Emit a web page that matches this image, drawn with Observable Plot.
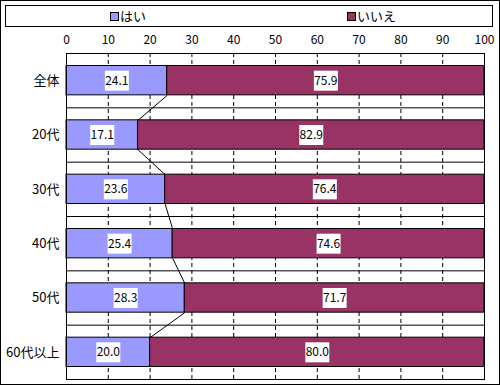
<!DOCTYPE html>
<html><head><meta charset="utf-8">
<script src="https://cdn.jsdelivr.net/npm/d3@7"></script>
<script src="https://cdn.jsdelivr.net/npm/@observablehq/plot@0.6"></script>
<style>
body{margin:0;background:#fff;font-family:"Noto Sans CJK JP",sans-serif;}
#wrap{position:relative;width:500px;height:385px;overflow:hidden;}
#frame{position:absolute;left:0;top:0;width:500px;height:385px;box-sizing:border-box;border:1px solid #000;pointer-events:none;}
#legend{position:absolute;left:5px;top:5px;width:488px;height:22px;box-sizing:border-box;border:1px solid #000;font-size:13px;}
.li{position:absolute;top:2px;display:flex;align-items:center;gap:1px;line-height:16px;}
.sw{width:7px;height:7px;border:1px solid #000;display:inline-block;}
#chart{position:absolute;left:0;top:28px;}
</style></head>
<body><div id="wrap"><div id="legend"></div><div id="chart"></div><div id="frame"></div></div>
<script>
const categories = ["全体","20代","30代","40代","50代","60代以上"];
const yesValues = [24.1,17.1,23.6,25.4,28.3,20.0];
const noValues = [75.9,82.9,76.4,74.6,71.7,80.0];
const seriesNames = ["はい","いいえ"];
const seriesColors = ["#9999FF","#993366"];
const xTicks = [0,10,20,30,40,50,60,70,80,90,100];

const legend = document.getElementById("legend");
const legendX = [104, 341];
seriesNames.forEach((n,i)=>{
  const d = document.createElement("div");
  d.className="li"; d.style.left = legendX[i]+"px";
  d.innerHTML = `<span class="sw" style="background:${seriesColors[i]}"></span><span>${n}</span>`;
  legend.appendChild(d);
});

const half = 0.27;
const bars = [];
categories.forEach((c,i)=>{
  bars.push({i, s:0, x1:0, x2:yesValues[i], v:yesValues[i]});
  bars.push({i, s:1, x1:yesValues[i], x2:yesValues[i]+noValues[i], v:noValues[i]});
});
const links = [];
for(let i=0;i<categories.length-1;i++){
  links.push({x1:yesValues[i], y1:i+half, x2:yesValues[i+1], y2:i+1-half});
}
const boxSymbol = {draw(ctx){ ctx.rect(-12,-10,24,20); }};

const plot = Plot.plot({
  width:500, height:357,
  marginLeft:66, marginRight:16, marginTop:25, marginBottom:6,
  style:{fontFamily:'"Noto Sans CJK JP",sans-serif', fontSize:"12px", color:"#000"},
  x:{domain:[0,100]},
  y:{domain:[categories.length-0.5,-0.5]},
  marks:[
    Plot.ruleX(xTicks.slice(1,-1), {stroke:"#000", strokeDasharray:"4,3", strokeWidth:1}),
    Plot.rect(bars, {x1:"x1", x2:"x2", y1:d=>d.i-half, y2:d=>d.i+half, fill:d=>seriesColors[d.s], stroke:"#000", strokeWidth:1}),
    Plot.link(links, {x1:"x1", y1:"y1", x2:"x2", y2:"y2", stroke:"#000", strokeWidth:1}),
    Plot.dot(bars, {x:d=>(d.x1+d.x2)/2, y:"i", symbol:boxSymbol, r:10, fill:"#fff", stroke:null}),
    Plot.text(bars, {x:d=>(d.x1+d.x2)/2, y:"i", text:d=>d.v.toFixed(1), fill:"#000", fontSize:12}),
    Plot.axisX({anchor:"top", ticks:xTicks, tickSize:0, tickPadding:10, tickFormat:d=>d}),
    Plot.axisY({anchor:"left", ticks:d3.range(categories.length), tickSize:0, tickPadding:7, tickFormat:i=>categories[i], fontSize:13}),
    Plot.tickY(d3.range(categories.length-1).map(i=>i+0.5), {x1:0, x2:0.8, stroke:"#000", strokeWidth:1}),
    Plot.frame({stroke:"#000", strokeWidth:1})
  ]
});
document.getElementById("chart").appendChild(plot);
</script></body></html>
